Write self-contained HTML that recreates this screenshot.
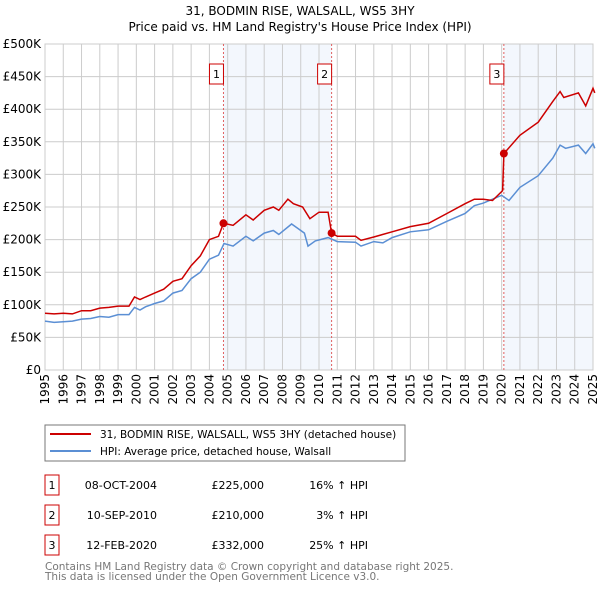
<!DOCTYPE html>
<html><head><meta charset="utf-8"><style>
body{margin:0;background:#fff;}
svg text{font-family:"DejaVu Sans","Liberation Sans",sans-serif;}
</style></head><body>
<svg width="600" height="590" xmlns="http://www.w3.org/2000/svg">
<text x="300" y="15" font-size="12" text-anchor="middle">31, BODMIN RISE, WALSALL, WS5 3HY</text>
<text x="300" y="31" font-size="12" text-anchor="middle">Price paid vs. HM Land Registry's House Price Index (HPI)</text>
<g id="plot"></g>
<rect x="45" y="425" width="360" height="36" fill="#fff" stroke="#777"/>
<line x1="50" y1="434" x2="91" y2="434" stroke="#cc0000" stroke-width="2"/>
<text x="100" y="438" font-size="10.5">31, BODMIN RISE, WALSALL, WS5 3HY (detached house)</text>
<line x1="50" y1="451" x2="91" y2="451" stroke="#5b8fd4" stroke-width="2"/>
<text x="100" y="455" font-size="10.5">HPI: Average price, detached house, Walsall</text>
<g id="table" font-size="11"></g>
<text x="45" y="570" font-size="10.5" fill="#777">Contains HM Land Registry data © Crown copyright and database right 2025.</text>
<text x="45" y="580" font-size="10.5" fill="#777">This data is licensed under the Open Government Licence v3.0.</text>
</svg>
<script>
const yTicks=[0,50,100,150,200,250,300,350,400,450,500];
const yTickLabels=["£0","£50K","£100K","£150K","£200K","£250K","£300K","£350K","£400K","£450K","£500K"];
const xYears=[1995,1996,1997,1998,1999,2000,2001,2002,2003,2004,2005,2006,2007,2008,2009,2010,2011,2012,2013,2014,2015,2016,2017,2018,2019,2020,2021,2022,2023,2024,2025];
const hpiT=[1995,1995.5,1996,1996.5,1997,1997.5,1998,1998.5,1999,1999.6,1999.9,2000.2,2000.5,2001,2001.5,2002,2002.5,2003,2003.5,2004,2004.5,2004.8,2005.3,2006,2006.4,2007,2007.5,2007.8,2008.5,2008.8,2009.2,2009.4,2009.8,2010.5,2011,2012,2012.3,2013,2013.5,2014,2015,2016,2017,2018,2018.5,2019,2019.5,2020,2020.4,2021,2022,2022.8,2023.2,2023.5,2024.2,2024.6,2025,2025.1];
const hpiV=[75,73,74,75,78,79,82,81,85,85,96,92,97,102,106,118,122,140,150,170,176,194,190,205,198,210,214,208,224,218,210,190,198,203,197,196,190,197,195,203,212,215,228,240,252,256,262,268,260,280,298,325,345,340,345,332,347,340];
const propT=[1995,1995.5,1996,1996.5,1997,1997.5,1998,1998.5,1999,1999.6,1999.9,2000.2,2000.5,2001,2001.5,2002,2002.5,2003,2003.5,2004,2004.5,2004.77,2005.3,2006,2006.4,2007,2007.5,2007.8,2008.3,2008.6,2009.1,2009.5,2010,2010.5,2010.69,2011,2012,2012.3,2013,2014,2015,2016,2017,2018,2018.5,2019,2019.5,2020.05,2020.12,2021,2022,2022.8,2023.2,2023.4,2024.2,2024.6,2025,2025.1];
const propV=[87,86,87,86,91,91,95,96,98,98,112,108,112,118,124,136,140,160,175,200,205,225,222,238,230,245,250,245,262,255,250,232,242,242,210,205,205,199,204,212,220,225,240,255,262,262,260,275,332,360,380,412,427,418,425,405,432,425];
const sales=[{t:2004.77,v:225},{t:2010.69,v:210},{t:2020.12,v:332}];
const saleLabels=["1","2","3"];
const saleDates=["08-OCT-2004","10-SEP-2010","12-FEB-2020"];
const salePrices=["£225,000","£210,000","£332,000"];
const saleHpi=["16% ↑ HPI","3% ↑ HPI","25% ↑ HPI"];
const NS="http://www.w3.org/2000/svg";
const X0=45,X1=593,Y0=370,Y1=44;
const xs=t=>X0+(t-1995)/30*(X1-X0);
const ys=v=>Y0-v/500*(Y0-Y1);
const plot=document.getElementById('plot');
function mk(tag,attrs,parent){const e=document.createElementNS(NS,tag);for(const k in attrs)e.setAttribute(k,attrs[k]);(parent||plot).appendChild(e);return e;}
let s1=mk('rect',{x:xs(sales[0].t),y:Y1,width:xs(sales[1].t)-xs(sales[0].t),height:Y0-Y1,fill:'#eef3fc',opacity:0.7});


let s2=mk('rect',{x:xs(sales[2].t),y:Y1,width:X1-xs(sales[2].t),height:Y0-Y1,fill:'#eef3fc',opacity:0.7});


yTicks.forEach((v,i)=>{
  let l=mk('line',{x1:X0,x2:X1,y1:ys(v),y2:ys(v),stroke:'#ccc'});
  
  
  let t=mk('text',{x:X0-4,y:ys(v)+4,'font-size':12,'text-anchor':'end'});
  t.textContent=yTickLabels[i];
  
  
});
xYears.forEach(yr=>{
  let l=mk('line',{x1:xs(yr),x2:xs(yr),y1:Y1,y2:Y0,stroke:'#ccc'});
  
  
  let t=mk('text',{x:0,y:0,'font-size':12,'text-anchor':'end',transform:`translate(${xs(yr)+4},${Y0+4}) rotate(-90)`});
  t.textContent=yr;
  
  
});
let ax=mk('rect',{x:X0,y:Y1,width:X1-X0,height:Y0-Y1,fill:'none',stroke:'#ccc'});


sales.forEach((s,i)=>{
  let l=mk('line',{x1:xs(s.t),x2:xs(s.t),y1:Y1,y2:Y0,stroke:'#e06060','stroke-dasharray':'2,2'});
  
  
  let b=mk('rect',{x:xs(s.t)-14,y:64,width:14,height:20,fill:'#fff',stroke:'#cc0000'});
  
  
  let t=mk('text',{x:xs(s.t)-7,y:78,'font-size':11,'text-anchor':'middle'});
  t.textContent=saleLabels[i];
  
  
});
function pathOf(T,V){return T.map((t,i)=>(i?'L':'M')+xs(t).toFixed(1)+','+ys(V[i]).toFixed(1)).join('');}
let hp=mk('path',{d:pathOf(hpiT,hpiV),fill:'none',stroke:'#5b8fd4','stroke-width':1.5});


let pp=mk('path',{d:pathOf(propT,propV),fill:'none',stroke:'#cc0000','stroke-width':1.5});


sales.forEach(s=>{
  let c=mk('circle',{cx:xs(s.t),cy:ys(s.v),r:4,fill:'#cc0000'});
  
  
});
const tb=document.getElementById('table');
sales.forEach((s,i)=>{
  const y=475+i*30;
  let b=mk('rect',{x:45,y:y,width:14,height:20,fill:'#fff',stroke:'#cc0000'},tb);
  
  
  const cells=[[52,saleLabels[i],'middle'],[157,saleDates[i],'end'],[264,salePrices[i],'end'],[368,saleHpi[i],'end']];
  cells.forEach(c=>{
    let t=mk('text',{x:c[0],y:y+14,'text-anchor':c[2]},tb);
    t.textContent=c[1];
    
    
  });
});
</script>
</body></html>
